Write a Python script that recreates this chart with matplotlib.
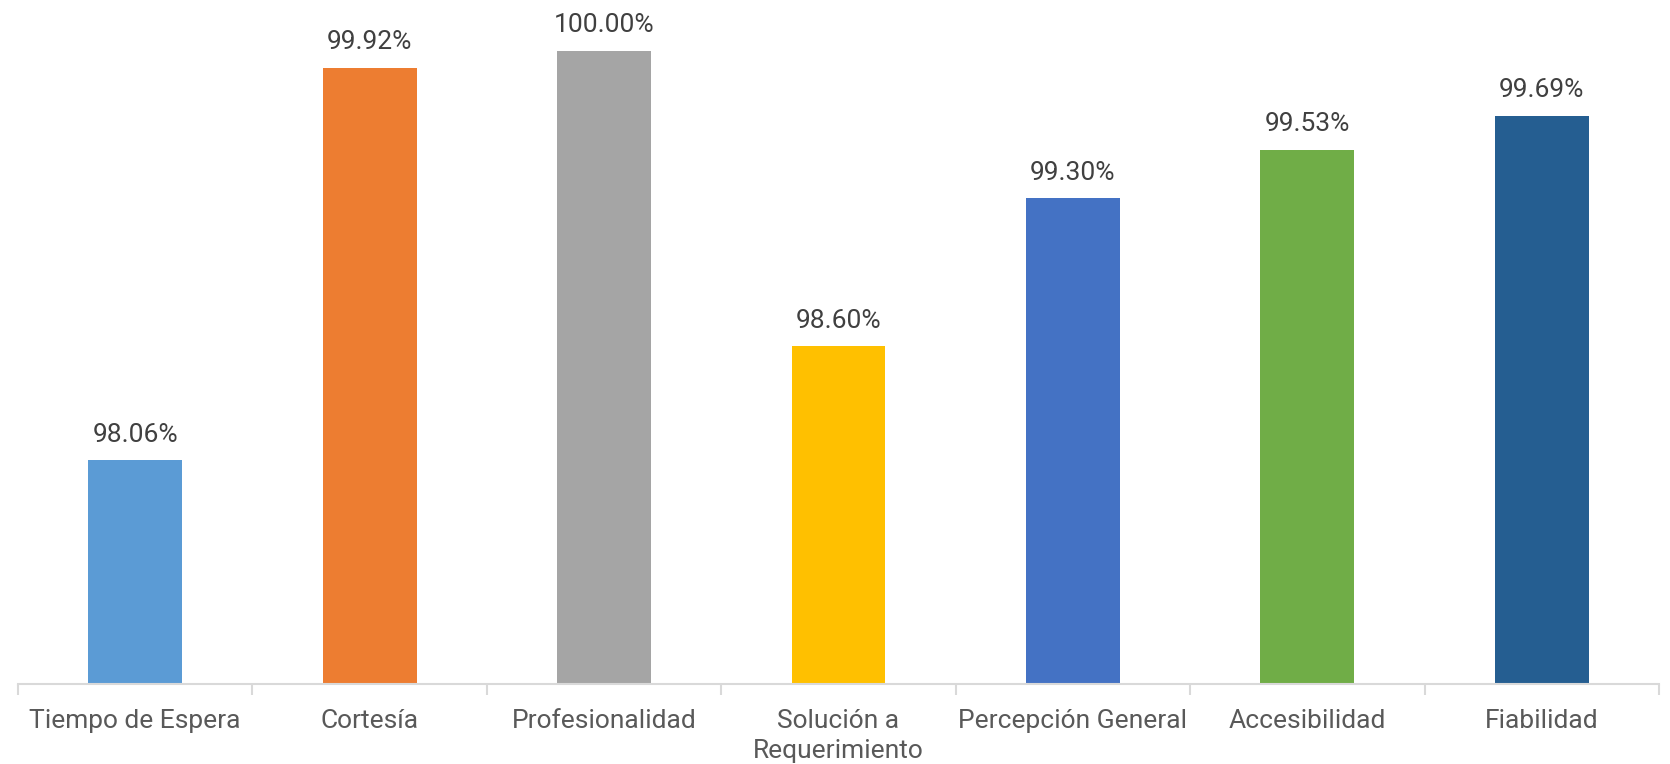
import matplotlib.pyplot as plt
import numpy as np

# Data
categories = ["Tiempo de Espera", "Cortesía", "Profesionalidad", "Solución a\nRequerimiento",
              "Percepción General", "Accesibilidad", "Fiabilidad"]
values = [98.06, 99.92, 100.00, 98.60, 99.30, 99.53, 99.69]
colors = ["#5B9BD5", "#ED7D31", "#A5A5A5", "#FFC000", "#4472C4", "#70AD47", "#255E91"]

plt.rcParams["font.family"] = ["Roboto", "DejaVu Sans"]
text_color = "#404040"
tick_color = "#595959"

fig = plt.figure(figsize=(16.70, 7.64), dpi=100)
ax = fig.add_axes([18 / 1670, 80 / 764, (1659 - 18) / 1670, 684 / 764])

x = np.arange(len(categories))
bars = ax.bar(x, values, width=0.4, color=colors, bottom=0)
ax.set_ylim(97.0, 100.24)
ax.set_xlim(-0.5, len(categories) - 0.5)

for xi, v in zip(x, values):
    ax.text(xi, v + 0.065, f"{v:.2f}%", ha="center", va="bottom", fontsize=19, color=text_color)

ax.set_xticks(x)
ax.set_xticklabels(categories, fontsize=19, color=tick_color, linespacing=1.3)
ax.set_xticks(np.arange(-0.5, len(categories)), minor=True)
ax.tick_params(axis="x", which="major", length=0, pad=18)
ax.tick_params(axis="x", which="minor", length=8, width=1.5, color="#D9D9D9")
ax.set_yticks([])

for side in ["top", "right", "left"]:
    ax.spines[side].set_visible(False)
ax.spines["bottom"].set_color("#D9D9D9")
ax.spines["bottom"].set_linewidth(1.5)

fig.savefig("out.png", dpi=100)
